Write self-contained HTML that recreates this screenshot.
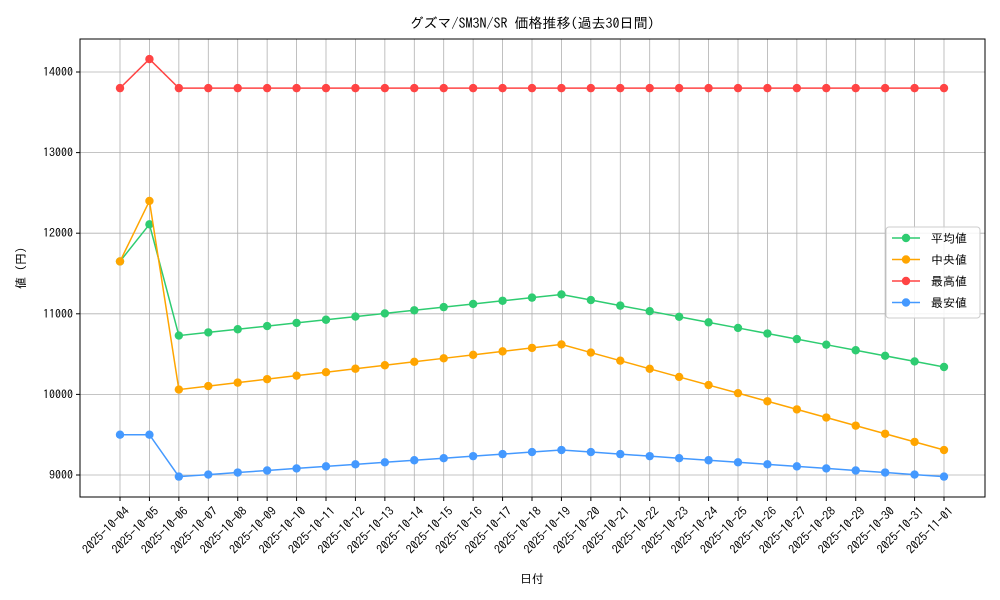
<!DOCTYPE html>
<html><head><meta charset="utf-8"><style>
body{margin:0;background:#fff;}
svg{display:block;font-family:"IPAGothic","Noto Sans CJK JP",sans-serif;}
</style></head><body>
<svg id="s" width="1000" height="600" xmlns="http://www.w3.org/2000/svg"></svg>
<script>
const s=document.getElementById('s');
const L=80,R=985,T=39,B=497;
const X=i=>120+i*(824/28);
const Y=v=>475-(v-9000)*0.0806;
let h='<rect width="1000" height="600" fill="#fff"/>';
// grid
for(let v=9000;v<=14000;v+=1000){h+=`<line x1="${L}" x2="${R}" y1="${Y(v)}" y2="${Y(v)}" stroke="#b0b0b0" stroke-width="0.8"/>`;
h+=`<line x1="${L-4}" x2="${L}" y1="${Y(v)}" y2="${Y(v)}" stroke="#000"/>`;
h+=`<text x="${L-7}" y="${Y(v)+4}" font-size="12" text-anchor="end">${v}</text>`;}
const dates=[];
for(let i=0;i<29;i++){let d=new Date(Date.UTC(2025,9,4+i));dates.push(d.toISOString().slice(0,10));}
dates.forEach((d,i)=>{const x=X(i);
h+=`<line x1="${x}" x2="${x}" y1="${T}" y2="${B}" stroke="#b0b0b0" stroke-width="0.8"/>`;
h+=`<line x1="${x}" x2="${x}" y1="${B}" y2="${B+4}" stroke="#000"/>`;
h+=`<text transform="translate(${x+4},${B+9}) rotate(-45)" font-size="12" text-anchor="end" dy="0.7em">${d}</text>`;});
h+=`<rect x="${L}" y="${T}" width="${R-L}" height="${B-T}" fill="none" stroke="#000" stroke-width="1"/>`;
function ser(a,c){let p=a.map((v,i)=>`${X(i)},${Y(v)}`).join(' ');
let o=`<polyline points="${p}" fill="none" stroke="${c}" stroke-width="1.5"/>`;
a.forEach((v,i)=>o+=`<circle cx="${X(i)}" cy="${Y(v)}" r="4.2" fill="${c}"/>`);return o;}
function build(a,b,mid,end,first){let r=[...first];for(let i=0;i<=13;i++)r.push(a+(mid-a)*i/13);for(let i=1;i<=13;i++)r.push(mid+(end-mid)*i/13);return r;}
const avg=build(10730,0,11240,10340,[11650,12110]);
const med=build(10060,0,10620,9310,[11650,12400]);
const mn=build(8980,0,9310,8980,[9500,9500]);
const mx=[13800,14160];for(let i=2;i<29;i++)mx.push(13800);
const cg='#2ecc71',co='#ffa500',cr='#ff4444',cb='#4499ff';
h+=ser(avg,cg)+ser(med,co)+ser(mx,cr)+ser(mn,cb);
h+=`<text x="532" y="28" font-size="14" text-anchor="middle">グズマ/SM3N/SR 価格推移(過去30日間)</text>`;
h+=`<text x="532" y="583" font-size="12" text-anchor="middle">日付</text>`;
h+=`<text transform="translate(25,268) rotate(-90)" font-size="12" text-anchor="middle">値 (円)</text>`;
// legend
h+=`<rect x="886" y="227" width="94" height="91" rx="3" fill="#fff" fill-opacity="0.85" stroke="#ccc"/>`;
[['平均値',cg],['中央値',co],['最高値',cr],['最安値',cb]].forEach((e,i)=>{const y=238+i*21.5;
h+=`<line x1="892" x2="920" y1="${y}" y2="${y}" stroke="${e[1]}" stroke-width="1.5"/><circle cx="906" cy="${y}" r="4.2" fill="${e[1]}"/>`;
h+=`<text x="931" y="${y+4.5}" font-size="12">${e[0]}</text>`;});
s.innerHTML=h;
</script>
</body></html>
